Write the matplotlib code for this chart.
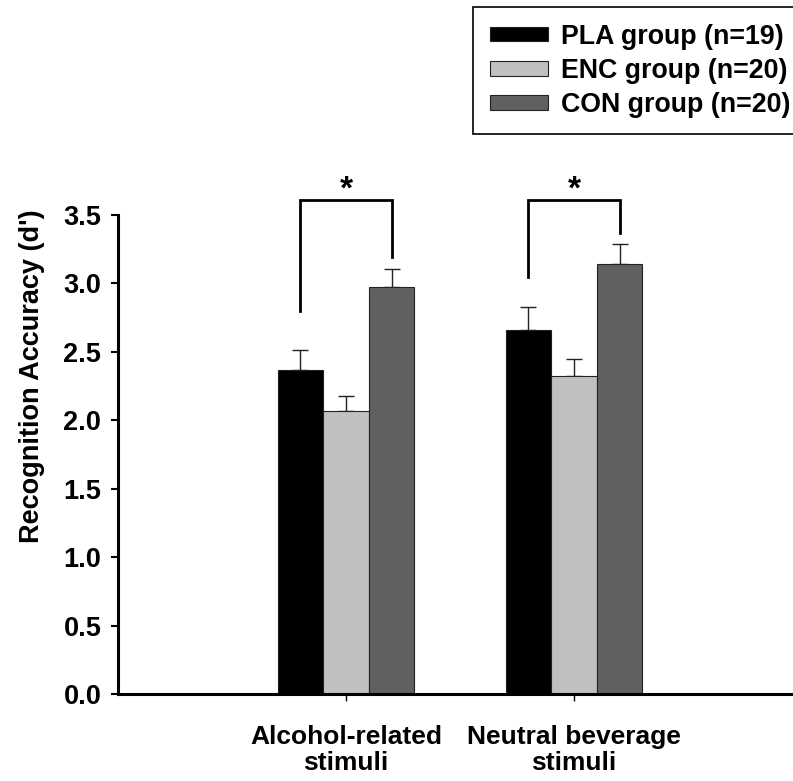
import matplotlib.pyplot as plt
import numpy as np

plt.rcParams['font.family'] = ['Liberation Sans', 'DejaVu Sans']
plt.rcParams['font.weight'] = 'bold'

categories = ['Alcohol-related\nstimuli', 'Neutral beverage\nstimuli']
groups = ['PLA group (n=19)', 'ENC group (n=20)', 'CON group (n=20)']
pla = [2.37, 2.66]
pla_err = [0.14, 0.17]
enc = [2.07, 2.32]
enc_err = [0.11, 0.13]
con = [2.975, 3.14]
con_err = [0.13, 0.15]
# significance brackets (PLA vs CON)
bracket_left = [2.80, 3.05]
bracket_right = [3.19, 3.37]
bracket_top = 3.61

colors = ['#000000', '#c0c0c0', '#606060']

fig = plt.figure(figsize=(7.93, 7.81), dpi=100)
ax = fig.add_axes([118 / 793, 87 / 781, 675 / 793, 479 / 781])

x = np.arange(len(categories))
w = 0.2
series = [(pla, pla_err), (enc, enc_err), (con, con_err)]
for i, (vals, errs) in enumerate(series):
    xs = x + (i - 1) * w
    ax.bar(xs, vals, w, color=colors[i], edgecolor='#222222', linewidth=0.8,
           label=groups[i], zorder=2)
    ax.errorbar(xs, vals, yerr=[np.zeros(len(errs)), errs], fmt='none',
                ecolor='#222222', elinewidth=1.0, capsize=5.5, capthick=1.0, zorder=1)

for j in range(len(categories)):
    xl = x[j] - w
    xr = x[j] + w
    ax.plot([xl, xl, xr, xr], [bracket_left[j], bracket_top, bracket_top, bracket_right[j]],
            color='black', lw=2.0, clip_on=False, solid_joinstyle='miter')
    ax.text(x[j], bracket_top + 0.01, '*', ha='center', va='baseline', fontsize=24,
            fontweight='bold', clip_on=False)

ax.set_xlim(-1, -1 + 675 / 228)
ax.set_ylim(0, 3.5)
ax.set_yticks(np.arange(0, 3.51, 0.5))
ax.set_yticklabels([f'{v:.1f}' for v in np.arange(0, 3.51, 0.5)])
ax.set_xticks(x)
ax.set_xticklabels(categories, linespacing=1.15)
ax.tick_params(axis='y', direction='out', length=5, width=1.5, labelsize=19.5, pad=7)
ax.tick_params(axis='x', direction='out', length=5, width=1.0, labelsize=19, pad=17)
ax.set_ylabel("Recognition Accuracy (d')", fontsize=19.5, fontweight='bold')
ax.yaxis.set_label_coords(-0.108, (694 - 376) / 479)

for s in ['top', 'right']:
    ax.spines[s].set_visible(False)
ax.spines['left'].set_linewidth(2.2)
ax.spines['bottom'].set_linewidth(2.2)

leg = ax.legend(loc='upper left', bbox_to_anchor=(473 / 793, 1 - 7 / 781),
                bbox_transform=fig.transFigure, borderaxespad=0, fontsize=19.3,
                handlelength=2.16, handleheight=0.47, handletextpad=0.52,
                labelspacing=0.3, borderpad=0.62, fancybox=False, framealpha=1)
leg.get_frame().set_edgecolor('black')
leg.get_frame().set_linewidth(1.2)

plt.savefig('out.png', dpi=100)
